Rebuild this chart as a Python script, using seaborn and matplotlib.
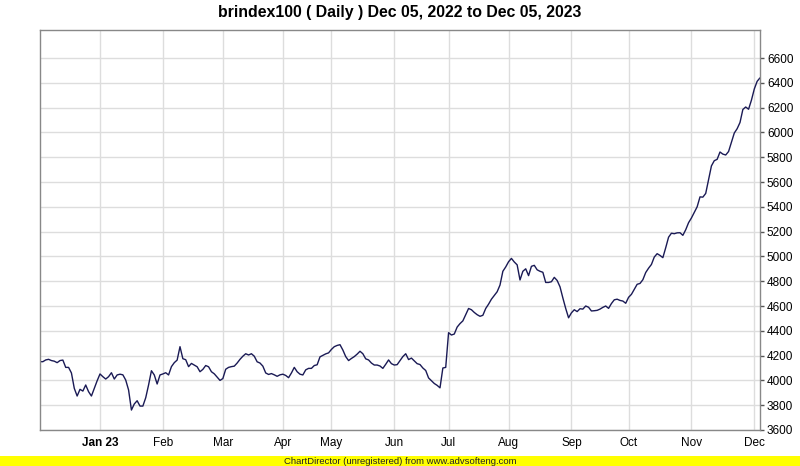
import matplotlib
matplotlib.use('Agg')
import matplotlib.pyplot as plt
from matplotlib.patches import Rectangle
import seaborn as sns
import pandas as pd

# Daily closes, one value per trading day (Dec 05, 2022 .. Dec 05, 2023)
closes = [
    4151, 4151, 4165, 4170, 4160, 4155, 4143, 4160, 4164, 4105,
    4105, 4060, 3936, 3874, 3928, 3914, 3963, 3909, 3874, 3936,
    3997, 4052, 4030, 4011, 4030, 4062, 4011, 4044, 4050, 4045,
    4003, 3923, 3761, 3810, 3836, 3793, 3793, 3860, 3963, 4078,
    4044, 3971, 4044, 4052, 4062, 4044, 4111, 4143, 4164, 4272,
    4175, 4167, 4111, 4137, 4124, 4110, 4070, 4089, 4120, 4110,
    4070, 4053, 4026, 4000, 4015, 4090, 4105, 4111, 4115, 4140,
    4170, 4195, 4215, 4205, 4215, 4195, 4150, 4140, 4115, 4060,
    4048, 4055, 4045, 4033, 4045, 4050, 4040, 4022, 4060, 4105,
    4070, 4050, 4044, 4085, 4097, 4097, 4120, 4126, 4190, 4202,
    4214, 4222, 4250, 4272, 4282, 4288, 4245, 4192, 4160, 4177,
    4192, 4212, 4235, 4215, 4174, 4165, 4140, 4124, 4124, 4116,
    4097, 4130, 4165, 4135, 4124, 4127, 4159, 4192, 4215, 4168,
    4180, 4158, 4135, 4128, 4100, 4080, 4020, 3997, 3975, 3960,
    3940, 4100, 4105, 4385, 4366, 4374, 4430, 4458, 4480, 4530,
    4580, 4570, 4548, 4530, 4517, 4525, 4580, 4615, 4655, 4685,
    4715, 4769, 4880, 4915, 4957, 4984, 4955, 4932, 4810, 4880,
    4900, 4845, 4920, 4928, 4892, 4880, 4872, 4790, 4790, 4796,
    4831, 4806, 4755, 4665, 4580, 4505, 4545, 4570, 4555, 4578,
    4575, 4600, 4590, 4560, 4562, 4565, 4575, 4589, 4600, 4581,
    4620, 4650, 4655, 4645, 4640, 4622, 4670, 4694, 4735, 4775,
    4782, 4812, 4870, 4905, 4935, 4995, 5022, 5008, 4990, 5070,
    5155, 5187, 5183, 5190, 5191, 5170, 5215, 5272, 5310, 5355,
    5400, 5480, 5478, 5508, 5620, 5730, 5772, 5783, 5842, 5825,
    5818, 5846, 5920, 5995, 6030, 6080, 6185, 6205, 6187, 6260,
    6350, 6412, 6440,
]

# first trading day of each month (index into closes)
month_pos = [21, 43, 64, 85, 102, 124, 143, 164, 186, 206, 228, 250]
month_labels = ['Jan 23', 'Feb', 'Mar', 'Apr', 'May', 'Jun',
                'Jul', 'Aug', 'Sep', 'Oct', 'Nov', 'Dec']

df = pd.DataFrame({'day': range(len(closes)), 'close': closes})

sns.set_theme(style='white')
plt.rcParams['font.family'] = ['Liberation Sans', 'DejaVu Sans']

fig = plt.figure(figsize=(8, 4.66), dpi=100)
ax = fig.add_axes([0.05, 1 - 430 / 466, 0.9, 400 / 466])

sns.lineplot(data=df, x='day', y='close', ax=ax, color='#1a1a55', linewidth=1)

ax.set_xlim(0, len(closes) - 1)
ax.set_ylim(3600, 6826)
ax.set_yticks(range(3600, 6601, 200))
ax.yaxis.tick_right()
ax.set_xticks(month_pos, month_labels)
ax.grid(True, color='#dddddd', linewidth=1)
ax.set_xlabel('')
ax.set_ylabel('')

ax.tick_params(axis='x', length=0, pad=5, labelsize=8.5, colors='black')
ax.tick_params(axis='y', right=True, length=3, width=1, color='#555555',
               pad=2, labelsize=8.5, labelcolor='black')
for lbl in ax.get_xticklabels():
    if lbl.get_text() == 'Jan 23':
        lbl.set_fontweight('bold')
for sp in ax.spines.values():
    sp.set_color('#888888')
    sp.set_linewidth(1)

fig.text(0.5, 1 - 13 / 466, 'brindex100 ( Daily ) Dec 05, 2022 to Dec 05, 2023',
         ha='center', va='center', fontsize=11.4, fontweight='bold', color='black')

# unregistered banner at the bottom
fig.add_artist(Rectangle((0, 0), 1, 10 / 466, transform=fig.transFigure,
                         facecolor='#ffff00', edgecolor='none'))
fig.text(0.5, 5 / 466, 'ChartDirector (unregistered) from www.advsofteng.com',
         ha='center', va='center', fontsize=6.8, color='#222222')

fig.savefig('out.png', dpi=100)
